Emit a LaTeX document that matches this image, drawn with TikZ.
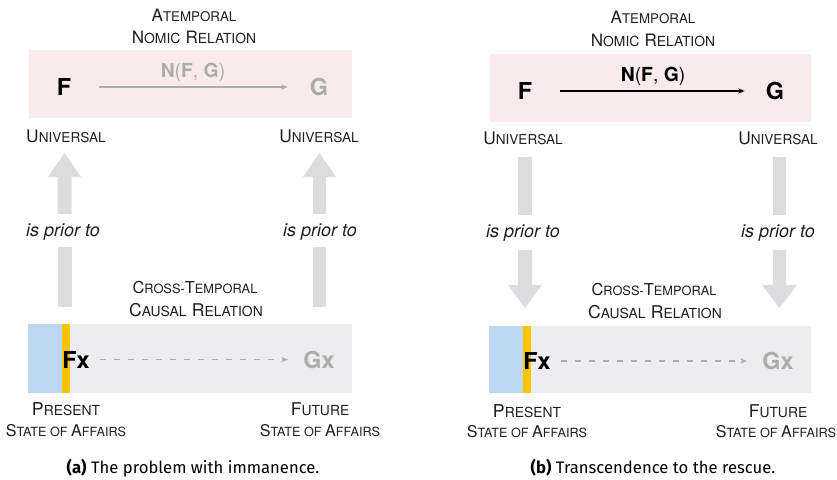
\documentclass[tikz,border=0pt]{standalone}
\usepackage{fontspec}
\setmainfont{TeX Gyre Heros}
\newfontfamily\capfont{Fira Sans}
\usetikzlibrary{arrows.meta}
\definecolor{pinkbg}{RGB}{249,235,235}
\definecolor{graybg}{RGB}{237,237,239}
\definecolor{bluebar}{RGB}{189,215,240}
\definecolor{yellowbar}{RGB}{255,196,0}
\definecolor{blockgray}{RGB}{220,220,222}
\definecolor{faint}{RGB}{172,172,172}
\definecolor{txt}{RGB}{30,30,30}
\newcommand\scA{12.5}
\newcommand\scB{9.8}
\newcommand\fsc[2]{{\fontsize{\scA}{14}\selectfont #1}{\fontsize{\scB}{12}\selectfont #2}}
\newcommand\scsize[2]{\def\scA{#1}\def\scB{#2}\fontsize{#2}{14}\selectfont}
\begin{document}
\begin{tikzpicture}[x=0.75pt,y=-0.75pt,
  lbl/.style={inner sep=0pt,text=txt},
  big/.style={inner sep=0pt,font=\fontsize{17.5}{20}\selectfont\bfseries},
  rel/.style={inner sep=0pt,font=\fontsize{14.5}{17}\selectfont},
  prior/.style={inner sep=0pt,text=txt,font=\fontsize{13.5}{16}\selectfont\itshape},
  thinarr/.style={line width=0.8pt,-{Stealth[length=5pt,width=4pt]}},
  dasharr/.style={line width=1pt,faint,dash pattern=on 5pt off 5.5pt,-{Stealth[length=5pt,width=4pt]}},
  captext/.style={inner sep=0pt,font=\capfont\fontsize{12.5}{15}\selectfont}
]
\useasboundingbox (0,0) rectangle (837,479);

% ---------------- panel (a) ----------------
\fill[pinkbg] (29,50) rectangle (352,118);
\node[lbl] (a-at1) at (194,15) {\scsize{12.8}{10}\fsc{A}{TEMPORAL}};
\node[lbl] (a-at2) at (194,37) {\scsize{12.8}{10.4}\fsc{N}{OMIC}\hspace{1pt} \fsc{R}{ELATION}};
\node[big] (a-F) at (64,87) {F};
\node[big,text=faint] (a-G) at (319,87) {G};
\node[rel,text=faint] (a-N) at (193,72) {\textbf{N}(\textbf{F}, \textbf{G})};
\draw[thinarr,faint,shorten <=21pt,shorten >=16.5pt] (a-F) -- (a-G);
\node[lbl] (a-u1) at (66,136) {\scsize{13}{10.2}\fsc{U}{NIVERSAL}};
\node[lbl] (a-u2) at (319,136) {\scsize{13}{10.2}\fsc{U}{NIVERSAL}};

\fill[blockgray] (57.5,214) -- (57.5,177) -- (48,177) -- (64.5,153) -- (81,177) -- (71.5,177) -- (71.5,214) -- cycle;
\fill[blockgray] (57.5,247) rectangle (71.5,307);
\fill[blockgray] (313,214) -- (313,177) -- (303,177) -- (319.5,153) -- (336,177) -- (326,177) -- (326,214) -- cycle;
\fill[blockgray] (313,247) rectangle (326,307);
\node[prior] (a-p1) at (63,232) {is prior to};
\node[prior] (a-p2) at (320,232) {is prior to};

\node[lbl] (a-ct1) at (195,288) {\scsize{12.3}{9.6}\fsc{C}{ROSS}-\fsc{T}{EMPORAL}};
\node[lbl] (a-ct2) at (196,310) {\scsize{13.2}{10.4}\fsc{C}{AUSAL}\hspace{1pt} \fsc{R}{ELATION}};
\fill[graybg] (28,324) rectangle (352,393);
\fill[bluebar] (28,324) rectangle (62,393);
\fill[yellowbar] (62,324) rectangle (70,393);
\node[big,anchor=west] (a-Fx) at (62,359.5) {Fx};
\node[big,text=faint] (a-Gx) at (319,359.5) {Gx};
\draw[dasharr,shorten <=7.5pt,shorten >=11.5pt] (a-Fx) -- (a-Gx);
\node[lbl] (a-pr1) at (66,409) {\scsize{13.3}{10.4}\fsc{P}{RESENT}};
\node[lbl] (a-pr2) at (66,431) {\scsize{12.1}{9.5}\fsc{S}{TATE OF} \fsc{A}{FFAIRS}};
\node[lbl] (a-fu1) at (320,409) {\scsize{13.2}{10.4}\fsc{F}{UTURE}};
\node[lbl] (a-fu2) at (320,431) {\scsize{12.1}{9.5}\fsc{S}{TATE OF} \fsc{A}{FFAIRS}};
\node[captext] (a-cap) at (193,468) {\textbf{(a)} The problem with immanence.};

% ---------------- panel (b) ----------------
\fill[pinkbg] (490,54) rectangle (811,122);
\node[lbl] (b-at1) at (653,17) {\scsize{12.8}{10}\fsc{A}{TEMPORAL}};
\node[lbl] (b-at2) at (653,40) {\scsize{12.8}{10.4}\fsc{N}{OMIC}\hspace{1pt} \fsc{R}{ELATION}};
\node[big] (b-F) at (525,91) {F};
\node[big] (b-G) at (775,91) {G};
\node[rel] (b-N) at (653,76) {\textbf{N}(\textbf{F}, \textbf{G})};
\draw[thinarr,black,shorten <=21pt,shorten >=15.75pt] (b-F) -- (b-G);
\node[lbl] (b-u1) at (523,138) {\scsize{13}{10.2}\fsc{U}{NIVERSAL}};
\node[lbl] (b-u2) at (778,138) {\scsize{13}{10.2}\fsc{U}{NIVERSAL}};

\fill[blockgray] (518,157) rectangle (532,215);
\fill[blockgray] (518,250) -- (518,285) -- (508,285) -- (525,308) -- (542,285) -- (532,285) -- (532,250) -- cycle;
\fill[blockgray] (773,157) rectangle (786,215);
\fill[blockgray] (773,250) -- (773,285) -- (762,285) -- (779.5,308) -- (797,285) -- (786,285) -- (786,250) -- cycle;
\node[prior] (b-p1) at (523,233) {is prior to};
\node[prior] (b-p2) at (778,233) {is prior to};

\node[lbl] (b-ct1) at (654,290) {\scsize{12.3}{9.6}\fsc{C}{ROSS}-\fsc{T}{EMPORAL}};
\node[lbl] (b-ct2) at (655,312) {\scsize{13.2}{10.4}\fsc{C}{AUSAL}\hspace{1pt} \fsc{R}{ELATION}};
\fill[graybg] (489,326) rectangle (811,393);
\fill[bluebar] (489,326) rectangle (523,393);
\fill[yellowbar] (523,326) rectangle (531,393);
\node[big,anchor=west] (b-Fx) at (523,361) {Fx};
\node[big,text=faint] (b-Gx) at (778,361) {Gx};
\draw[dasharr,shorten <=7.5pt,shorten >=11.5pt] (b-Fx) -- (b-Gx);
\node[lbl] (b-pr1) at (527,411) {\scsize{13.3}{10.4}\fsc{P}{RESENT}};
\node[lbl] (b-pr2) at (527,432) {\scsize{12.1}{9.5}\fsc{S}{TATE OF} \fsc{A}{FFAIRS}};
\node[lbl] (b-fu1) at (778,411) {\scsize{13.2}{10.4}\fsc{F}{UTURE}};
\node[lbl] (b-fu2) at (776,432) {\scsize{12.1}{9.5}\fsc{S}{TATE OF} \fsc{A}{FFAIRS}};
\node[captext] (b-cap) at (653,468) {\textbf{(b)} Transcendence to the rescue.};
\end{tikzpicture}
\end{document}
